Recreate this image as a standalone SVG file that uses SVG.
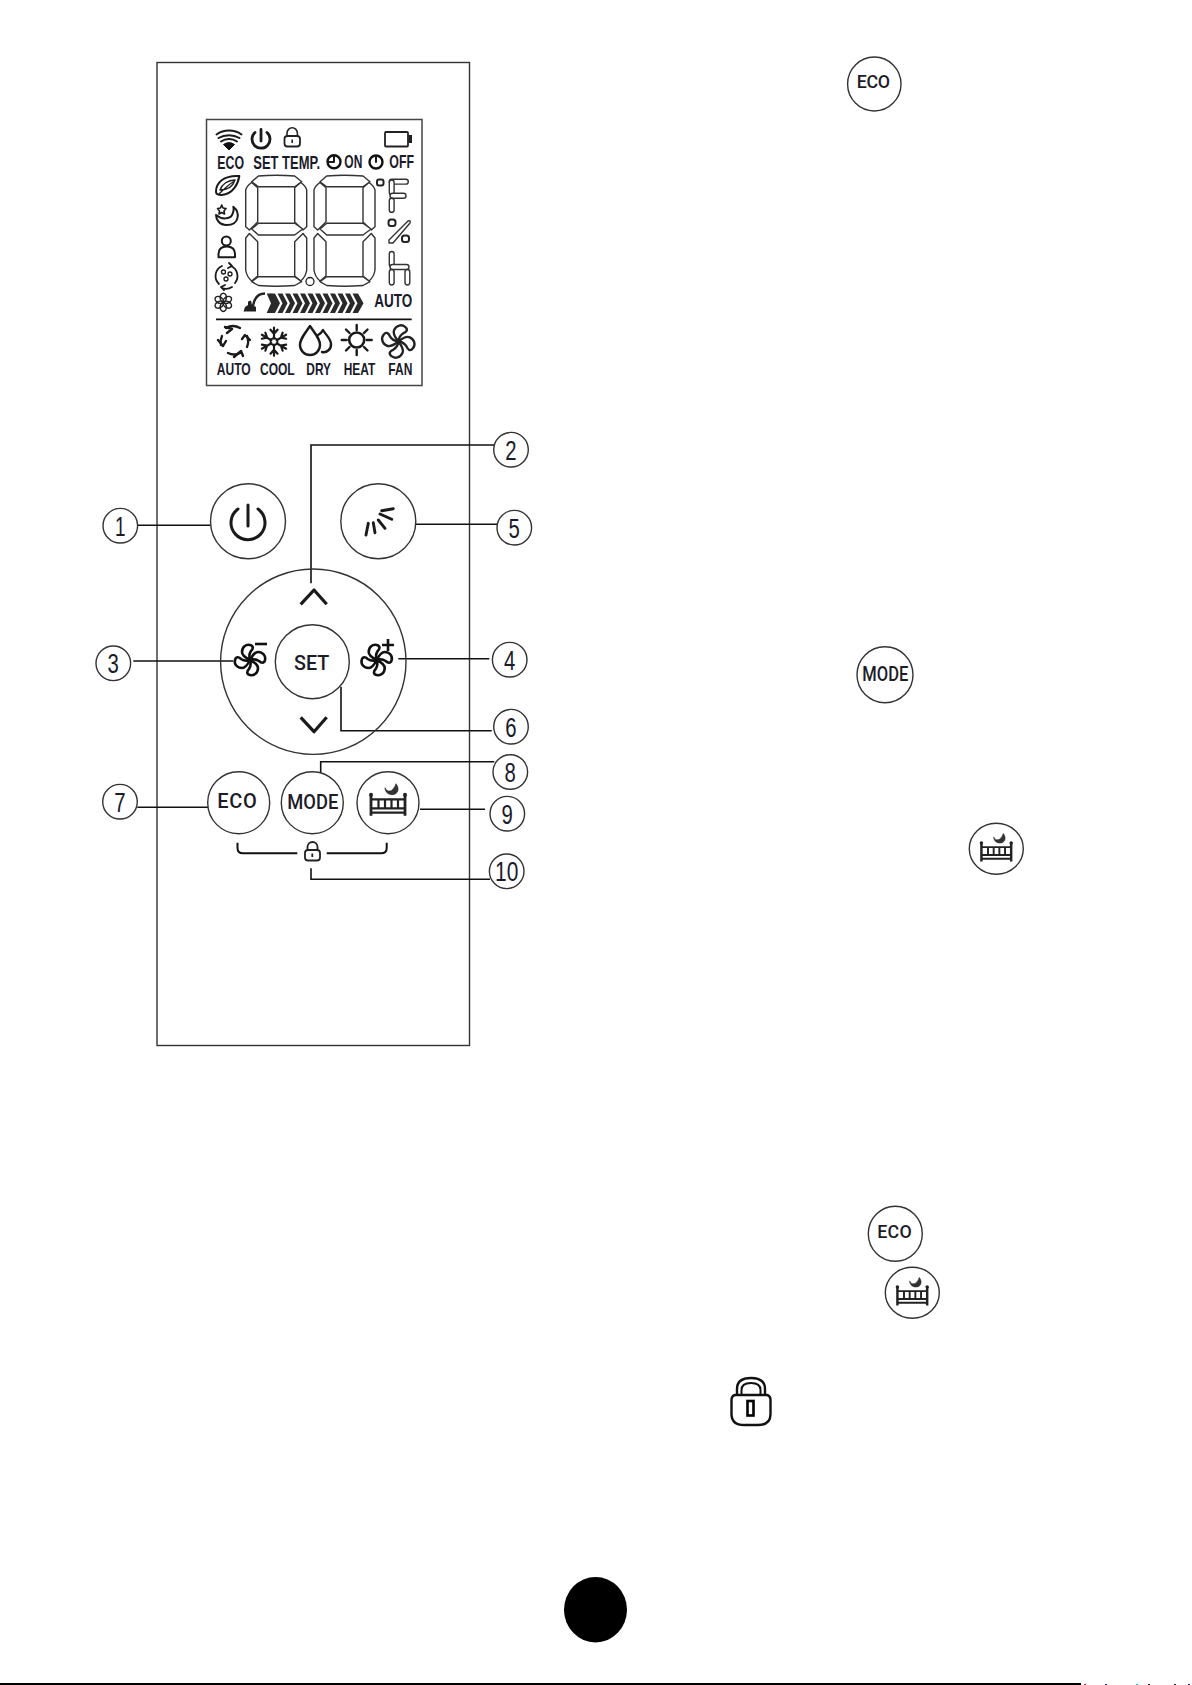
<svg xmlns="http://www.w3.org/2000/svg" xmlns:xlink="http://www.w3.org/1999/xlink" width="1192" height="1685" viewBox="0 0 1192 1685">
<style>
.o{fill:none;stroke:#222;stroke-width:1.5}
.c{fill:#fff;stroke:#333;stroke-width:1.4}
.l{fill:none;stroke:#111;stroke-width:1.6}
.i{fill:none;stroke:#1a1a1a;stroke-width:2.4;stroke-linecap:round;stroke-linejoin:round}
.t{font-family:"Liberation Sans Narrow","Liberation Sans",sans-serif;font-weight:700;fill:#1a1a2a;font-size:17.500px}
.m{font-size:16.500px}
.b{font-family:Roboto,"Liberation Sans",sans-serif;font-weight:500;fill:#1c1c28}
.n{font-family:"Liberation Sans",sans-serif;fill:#1a1a2a;font-size:28px}
.seg{fill:#fff;stroke:#333;stroke-width:1.4;stroke-linejoin:round}
.cap{fill:#fff;stroke:#333;stroke-width:1.4}
</style>
<defs>
<g id="digit">
<path class="seg" d="M6,6.700L12.700,1Q30,-0.500 49,1L56,6.700L49,11.700H12.700Z"/>
<path class="seg" d="M6,7.500L12,12.700V47L3.700,55L0,51.700V15Q1,11 6,7.500Z"/>
<path class="seg" d="M55,7.500L49,12.700V47L57.300,55L61,51.700V15Q60,11 55,7.500Z"/>
<path class="seg" d="M6,54L12.700,48.300H49L57,54L49,60H12.700Z"/>
<path class="seg" d="M3.700,58.500L12,66.700V101L6,106Q1,102 0,95V63Z"/>
<path class="seg" d="M57.300,58.500L49,66.700V101L55,106Q60,102 61,95V63Z"/>
<path class="seg" d="M6,106.700L12.700,101.700H49L56,106.700L49,110.500Q30,112 12.700,110.500Z"/>
</g>
<g id="blade"><path d="M0,0C-4,-2 -8,-5 -8,-8C-8,-13 -4,-16 0,-15C4,-14 3,-11 1,-9C-1,-6 -1,-3 0,0Z"/></g>
<g id="fan">
<use xlink:href="#blade" href="#blade"/>
<use xlink:href="#blade" href="#blade" transform="rotate(90)"/>
<use xlink:href="#blade" href="#blade" transform="rotate(180)"/>
<use xlink:href="#blade" href="#blade" transform="rotate(270)"/>
</g>
<g id="bed">
<path d="M-3,-15C-1,-10 5,-10 8,-19C12,-14 10,-8 4,-8C0,-8 -3,-11 -3,-15Z" fill="#333" stroke="#222" stroke-width=".6"/>
<path d="M-17,-8V13M17,-8V13" fill="none" stroke="#222" stroke-width="2.800"/>
<path d="M-17,-3.300H17M-17,5.700H17M-17,10H17" fill="none" stroke="#222" stroke-width="2.200"/>
<path d="M-9.500,-3V6M-3,-3V6M3.500,-3V6M10,-3V6" fill="none" stroke="#222" stroke-width="2.200"/>
<circle cx="-17" cy="-8" r="2" fill="#222"/><circle cx="17" cy="-8" r="2" fill="#222"/>
</g>
<g id="chev"><path d="M0,0H5L10,9.700L5,19.400H0L5,9.700Z" fill="#2a2a2a"/></g>
<ellipse id="petal" cx="0" cy="-4.800" rx="3.100" ry="4.300" fill="none" stroke="#222" stroke-width="1.500"/>
<path id="snowarm" d="M0,-3V-14M-3.500,-12L0,-8L3.500,-12" fill="none" stroke="#1a1a1a" stroke-width="2.200" stroke-linecap="round" stroke-linejoin="round"/>
</defs>

<g id="remote"><rect x="157" y="62.500" width="312.500" height="983" fill="#fff" stroke="#333" stroke-width="1.400"/></g>

<g id="lcd">
<rect x="206.500" y="119.500" width="215.500" height="266" fill="#fff" stroke="#444" stroke-width="1.500"/>
<g id="lcd-top-icons">
<path d="M216.500,134.500A20,18 0 0 1 241.500,134.500" class="i" style="stroke-width:2"/>
<path d="M218.500,138A18,15 0 0 1 239.500,138" class="i" style="stroke-width:2"/>
<path d="M221,141.500A13,12 0 0 1 237,141.500" class="i" style="stroke-width:2"/>
<path d="M223.500,144.500A9,8 0 0 1 234.500,144.500L229,150Z" fill="#111" stroke="#111"/>
<path d="M255,132.500A9,9 0 1 0 267,132.500M261,129.500V141" class="i" style="stroke-width:2.800"/>
<rect x="284.500" y="136" width="15.500" height="10.500" rx="3" class="o" style="stroke-width:1.800"/>
<path d="M287,136V133a5.200,5.200 0 0 1 10.400,0V136M292.200,139.500V143" class="o" style="stroke-width:1.600"/>
<rect x="385" y="132" width="23" height="14.500" rx="1" class="o" style="stroke-width:1.800"/>
<rect x="408.500" y="135" width="3.500" height="8" fill="#222"/>
</g>
<g id="lcd-labels">
<text class="t" x="217.300" y="169.300" textLength="26.700" lengthAdjust="spacingAndGlyphs">ECO</text>
<text class="t" x="253.300" y="169.300" textLength="66.700" lengthAdjust="spacingAndGlyphs">SET TEMP.</text>
<circle cx="334" cy="161.700" r="6.500" fill="none" stroke="#111" stroke-width="2.400"/>
<path d="M334,156.500V162H328" class="i" style="stroke-width:2"/>
<text class="t" x="344.300" y="167.700" textLength="18" lengthAdjust="spacingAndGlyphs">ON</text>
<circle cx="376" cy="162" r="6.500" fill="none" stroke="#111" stroke-width="2.400"/>
<path d="M376,156.500V162" class="i" style="stroke-width:2"/>
<text class="t" x="389.300" y="168.300" textLength="24.700" lengthAdjust="spacingAndGlyphs">OFF</text>
</g>
<g id="lcd-digits">
<use xlink:href="#digit" href="#digit" x="245.700" y="175"/>
<use xlink:href="#digit" href="#digit" x="314" y="175"/>
<circle cx="310" cy="281.500" r="4" class="o" style="stroke-width:1.300"/>
<rect x="377" y="179.500" width="6.500" height="6" rx="2" class="o" style="stroke-width:2"/>
<rect class="cap" x="389.300" y="179.300" width="19" height="4.800" rx="2.400"/>
<rect class="cap" x="389.300" y="180" width="4.800" height="15" rx="2.400"/>
<rect class="cap" x="390" y="193.300" width="16" height="5" rx="2.500"/>
<rect class="cap" x="389.300" y="198.300" width="4.800" height="14" rx="2.400"/>
<rect x="388.500" y="219.500" width="7" height="6.500" rx="2.500" class="o" style="stroke-width:2"/>
<rect x="402" y="235.500" width="7" height="6.500" rx="2.500" class="o" style="stroke-width:2"/>
<path class="seg" d="M389,240L408,221Q411,220 410,223L393,243H389Z"/>
<rect class="cap" x="389.300" y="251.500" width="4.800" height="15.500" rx="2.400"/>
<rect class="cap" x="390" y="264.500" width="19" height="5" rx="2.500"/>
<rect class="cap" x="389.300" y="269.500" width="4.800" height="15.500" rx="2.400"/>
<rect class="cap" x="405" y="269.500" width="4.800" height="15.500" rx="2.400"/>
</g>
<g id="lcd-left-icons">
<path d="M216,191.700C216,183.300 223.300,175 239.300,176C238.300,183.300 233.300,194 221.700,195C218.300,195 216,194 216,191.700Z" class="i" style="stroke-width:2"/>
<path d="M220,190C222,184 228,180 235,180C233,186 228,190 220,190ZM219,194C224,189 228,185 233,182" class="i" style="stroke-width:1.400"/>
<path d="M233.300,206.700C240,212 240,225 226.700,225C219,225 216,219 216,215C222,220 230,219 232,215C233.500,212 234,209 233.300,206.700Z" class="i" style="stroke-width:2"/>
<path d="M221.700,205L223,208L226,208.500L224,211L224.500,214L221.700,212.500L219,214L219.500,211L217.500,208.500L220.500,208Z" class="i" style="stroke-width:1.600"/>
<circle cx="226.300" cy="241" r="4.500" class="i" style="stroke-width:2"/>
<path d="M218.500,257.300V254C218.500,249 221,246.500 226.700,246.500C232,246.500 235,249 235,254V257.300Z" class="i" style="stroke-width:2"/>
<path d="M222,266A11,11 0 0 0 219,284M231,266A11,11 0 0 1 235,283M222,288A11,11 0 0 0 232,287M229,263L232,266L228,268M224,290L221,287L225,285" class="i" style="stroke-width:1.800"/>
<circle cx="223.500" cy="272" r="2" class="i" style="stroke-width:1.300"/><circle cx="230" cy="274" r="2" class="i" style="stroke-width:1.300"/><circle cx="226" cy="279" r="2" class="i" style="stroke-width:1.300"/>
<g id="lcd-fan" transform="translate(223.300,302.300)">
<use xlink:href="#petal" href="#petal"/><use xlink:href="#petal" href="#petal" transform="rotate(60)"/><use xlink:href="#petal" href="#petal" transform="rotate(120)"/><use xlink:href="#petal" href="#petal" transform="rotate(180)"/><use xlink:href="#petal" href="#petal" transform="rotate(240)"/><use xlink:href="#petal" href="#petal" transform="rotate(300)"/>
</g>
<path d="M243.500,311.500L245,307L248,305V301.500L251,300.500L252,305L256,307V311.500Z" fill="#222"/>
<path d="M265,293.500C258,293.500 253,299 252.500,311" fill="none" stroke="#222" stroke-width="2.400"/>
<g id="lcd-bars">
<path d="M266.700,293.500H271L276,303.200L271,312.900H266.700L271,303.200Z" fill="#2a2a2a"/>
<use xlink:href="#chev" href="#chev" x="270" y="293.500"/><use xlink:href="#chev" href="#chev" x="277.500" y="293.500"/><use xlink:href="#chev" href="#chev" x="285" y="293.500"/><use xlink:href="#chev" href="#chev" x="292.500" y="293.500"/><use xlink:href="#chev" href="#chev" x="300" y="293.500"/><use xlink:href="#chev" href="#chev" x="307.500" y="293.500"/><use xlink:href="#chev" href="#chev" x="315" y="293.500"/><use xlink:href="#chev" href="#chev" x="322.500" y="293.500"/><use xlink:href="#chev" href="#chev" x="330" y="293.500"/><use xlink:href="#chev" href="#chev" x="337.500" y="293.500"/><use xlink:href="#chev" href="#chev" x="345" y="293.500"/>
<path d="M352.500,293.500H358L363.500,303.200L358,312.900H352.500L357.500,303.200Z" fill="#2a2a2a"/>
</g>
<text class="t" x="374.300" y="307.300" textLength="38" lengthAdjust="spacingAndGlyphs">AUTO</text>
</g>
<line x1="216" y1="319.300" x2="411.700" y2="319.300" stroke="#111" stroke-width="1.800"/>
<g id="lcd-modes">
<g class="i" style="stroke-width:2.400">
<path d="M222,336A14,14 0 0 0 221,345M228,353A14,14 0 0 0 240,353M247,347A14,14 0 0 0 247,336M240,328A14,14 0 0 0 226,328"/>
<path d="M225,327L232,329L227,333M218,340L223,346L226,341M234,357L241,351L243,356M250,340L245,335L242,339"/>
</g>
<g id="snow" transform="translate(274,341.700)">
<circle r="3.500" fill="none" stroke="#1a1a1a" stroke-width="1.800"/>
<use xlink:href="#snowarm" href="#snowarm"/><use xlink:href="#snowarm" href="#snowarm" transform="rotate(60)"/><use xlink:href="#snowarm" href="#snowarm" transform="rotate(120)"/><use xlink:href="#snowarm" href="#snowarm" transform="rotate(180)"/><use xlink:href="#snowarm" href="#snowarm" transform="rotate(240)"/><use xlink:href="#snowarm" href="#snowarm" transform="rotate(300)"/>
</g>
<path d="M310,326C304,335 300,339 300,345A10,10 0 0 0 320,345C320,339 316,335 310,326Z" class="i"/>
<path d="M322,352A7.500,7.500 0 0 0 331,344C331,339 326,335 323,330C322,332 320,334 318,335" class="i"/>
<circle cx="356.700" cy="340" r="7.500" class="i" style="stroke-width:2.600"/>
<path d="M356.700,325V330M356.700,350V355M341.700,340H346.700M366.700,340H371.700M346,329.500L349.500,333M364,347L367.500,350.500M346,350.500L349.500,347M364,333L367.500,329.500" class="i"/>
<use xlink:href="#fan" href="#fan" transform="translate(398.300,341.500) rotate(25) scale(1.080)" style="fill:#fff;stroke:#222;stroke-width:2.200"/>
</g>
<g id="lcd-mode-labels">
<text class="t m" x="216.700" y="374.700" textLength="34" lengthAdjust="spacingAndGlyphs">AUTO</text>
<text class="t m" x="260" y="374.700" textLength="34.700" lengthAdjust="spacingAndGlyphs">COOL</text>
<text class="t m" x="306.300" y="374.700" textLength="24.700" lengthAdjust="spacingAndGlyphs">DRY</text>
<text class="t m" x="343.700" y="374.700" textLength="31.600" lengthAdjust="spacingAndGlyphs">HEAT</text>
<text class="t m" x="388.300" y="374.700" textLength="24" lengthAdjust="spacingAndGlyphs">FAN</text>
</g>
</g>

<g id="connectors">
<path class="l" d="M137.300,525.300H210.700"/>
<path class="l" d="M311,583.300V445H494.300"/>
<path class="l" d="M416,524.300H501.700"/>
<path class="l" d="M133.300,661H233.300"/>
<path class="l" d="M398.300,658.700H489.300"/>
<path class="l" d="M341,686.700V730.700H491.700"/>
<path class="l" d="M320.700,774.300V761.700H494.300"/>
<path class="l" d="M137.300,807.300H208.300"/>
<path class="l" d="M420,809.300H485"/>
<path class="l" d="M311,868.300V879.300H490"/>
</g>

<g id="btn-power"><circle class="c" cx="248" cy="521.300" r="37.500"/>
<path d="M238,509A17,17 0 1 0 258,509M248,505V526" class="i" style="stroke-width:3"/></g>
<g id="btn-swing"><circle class="c" cx="378.300" cy="521.300" r="37.500"/>
<path d="M366,535L368.300,523.300M375,532.700L373.300,522.700M385,528.300L378.300,520M391.700,519.300L380,514M393.300,508.700L381.700,510.700" class="i" style="stroke-width:2.900"/></g>
<g id="dial"><circle cx="313.300" cy="661.700" r="92.700" fill="none" stroke="#333" stroke-width="1.400"/>
<path d="M300.700,604.300L314,590L326.700,604.300M300.700,717.300L314,731.700L326.700,717.300" class="i" style="stroke-width:3.200;stroke-linecap:butt"/>
</g>
<g id="btn-fan-minus"><use xlink:href="#fan" href="#fan" transform="translate(250,660)" style="fill:#fff;stroke:#111;stroke-width:2.600"/><path d="M255,644H267" stroke="#111" stroke-width="2.600"/></g>
<g id="btn-fan-plus"><use xlink:href="#fan" href="#fan" transform="translate(376.700,660)" style="fill:#fff;stroke:#111;stroke-width:2.600"/><path d="M382,645H394M388,639V651" stroke="#111" stroke-width="2.600"/></g>
<g id="btn-set"><circle class="c" cx="312.300" cy="661.700" r="37"/><text class="b" x="294" y="670" font-size="19.700" textLength="35.300">SET</text></g>
<g id="btn-eco"><circle class="c" cx="238.700" cy="802.700" r="31"/><text class="b" x="217.300" y="807.700" font-size="20" textLength="39.400">ECO</text></g>
<g id="btn-mode"><circle class="c" cx="312.300" cy="802.700" r="31"/><text class="b" x="287.300" y="809.300" font-size="20" textLength="51" lengthAdjust="spacingAndGlyphs">MODE</text></g>
<g id="btn-sleep"><circle class="c" cx="388" cy="802.700" r="31"/><use xlink:href="#bed" href="#bed" x="388" y="802.700"/></g>
<g id="lock-bracket">
<path d="M237.500,842.700V848Q237.500,853.300 243,853.300H297.300M326.700,853.300H381Q386.700,853.300 386.700,848V842.700" fill="none" stroke="#111" stroke-width="2"/>
<rect x="305" y="850" width="15" height="10.500" rx="3" class="o" style="stroke-width:1.800"/>
<path d="M307.500,850V847a5,5 0 0 1 10,0V850M312.300,853.500V857" class="o" style="stroke-width:1.800"/>
</g>

<g id="num-1"><circle class="c" cx="120.300" cy="525.700" r="17.300"/><text class="n" x="115" y="535.500" textLength="10.500" lengthAdjust="spacingAndGlyphs">1</text></g>
<g id="num-2"><circle class="c" cx="511" cy="449.700" r="17.300"/><text class="n" x="505.300" y="459.500" textLength="11.300" lengthAdjust="spacingAndGlyphs">2</text></g>
<g id="num-3"><circle class="c" cx="113.300" cy="663.300" r="17.300"/><text class="n" x="107.600" y="673.100" textLength="11.300" lengthAdjust="spacingAndGlyphs">3</text></g>
<g id="num-4"><circle class="c" cx="509.700" cy="659.700" r="17.300"/><text class="n" x="504" y="669.500" textLength="11.300" lengthAdjust="spacingAndGlyphs">4</text></g>
<g id="num-5"><circle class="c" cx="514.300" cy="527.700" r="17.300"/><text class="n" x="508.600" y="537.500" textLength="11.300" lengthAdjust="spacingAndGlyphs">5</text></g>
<g id="num-6"><circle class="c" cx="511" cy="726.700" r="17.300"/><text class="n" x="505.300" y="736.500" textLength="11.300" lengthAdjust="spacingAndGlyphs">6</text></g>
<g id="num-7"><circle class="c" cx="120" cy="801.700" r="17.300"/><text class="n" x="114.300" y="811.500" textLength="11.300" lengthAdjust="spacingAndGlyphs">7</text></g>
<g id="num-8"><circle class="c" cx="510.300" cy="772" r="17.300"/><text class="n" x="504.600" y="781.800" textLength="11.300" lengthAdjust="spacingAndGlyphs">8</text></g>
<g id="num-9"><circle class="c" cx="507.300" cy="813.700" r="17.300"/><text class="n" x="501.600" y="823.500" textLength="11.300" lengthAdjust="spacingAndGlyphs">9</text></g>
<g id="num-10"><circle class="c" cx="506.700" cy="871.300" r="17.300"/><text class="n" x="495" y="881.100" textLength="23.300" lengthAdjust="spacingAndGlyphs">10</text></g>

<g id="ref-eco-top"><ellipse class="c" cx="874.300" cy="84" rx="26.700" ry="27"/><text class="b" x="856.700" y="88.300" font-size="17.800" textLength="33.300">ECO</text></g>
<g id="ref-mode"><ellipse class="c" cx="885" cy="674.700" rx="28" ry="28"/><text class="b" x="862.300" y="680.700" font-size="19.700" textLength="46" lengthAdjust="spacingAndGlyphs">MODE</text></g>
<g id="ref-sleep-top"><ellipse class="c" cx="996.300" cy="848.700" rx="27" ry="25.500"/><use xlink:href="#bed" href="#bed" transform="translate(996.300,850) scale(.875)"/></g>
<g id="ref-eco-bottom"><ellipse class="c" cx="895.300" cy="1233.700" rx="27" ry="27.500"/><text class="b" x="877.300" y="1238.300" font-size="17.800" textLength="34.400">ECO</text></g>
<g id="ref-sleep-bottom"><ellipse class="c" cx="912.300" cy="1292.700" rx="27" ry="25.500"/><use xlink:href="#bed" href="#bed" transform="translate(912.300,1294) scale(.875)"/></g>
<g id="ref-lock">
<path d="M731.500,1400Q731.500,1396 735,1395H767Q770.500,1396 770.500,1400V1414Q770.500,1425 758,1425H744Q731.500,1425 731.500,1414Z" fill="none" stroke="#111" stroke-width="2.400"/>
<path d="M737,1395V1389C737,1381 743,1378 751,1378C759,1378 765,1381 765,1389V1395" fill="none" stroke="#111" stroke-width="2.400"/>
<path d="M741.500,1395V1390C741.500,1385 745,1383 751,1383C757,1383 760.500,1385 760.500,1390V1395" fill="none" stroke="#111" stroke-width="2"/>
<rect x="747.500" y="1401" width="6" height="14.500" fill="none" stroke="#000" stroke-width="2.600"/>
</g>

<ellipse id="page-dot" cx="595.500" cy="1609.700" rx="31.500" ry="32.700" fill="#000"/>
<line id="rule" x1="0" y1="1684" x2="1081" y2="1684" stroke="#000" stroke-width="2"/>
<g id="specks"><rect x="1084" y="1684" width="2" height="1" fill="#c22"/><rect x="1105" y="1684" width="2" height="1" fill="#22c"/><rect x="1136" y="1684" width="2" height="1" fill="#2cc"/><rect x="1148" y="1684" width="2" height="1" fill="#222"/><rect x="1174" y="1684" width="2" height="1" fill="#222"/><rect x="1188" y="1684" width="2" height="1" fill="#22c"/></g>
</svg>
